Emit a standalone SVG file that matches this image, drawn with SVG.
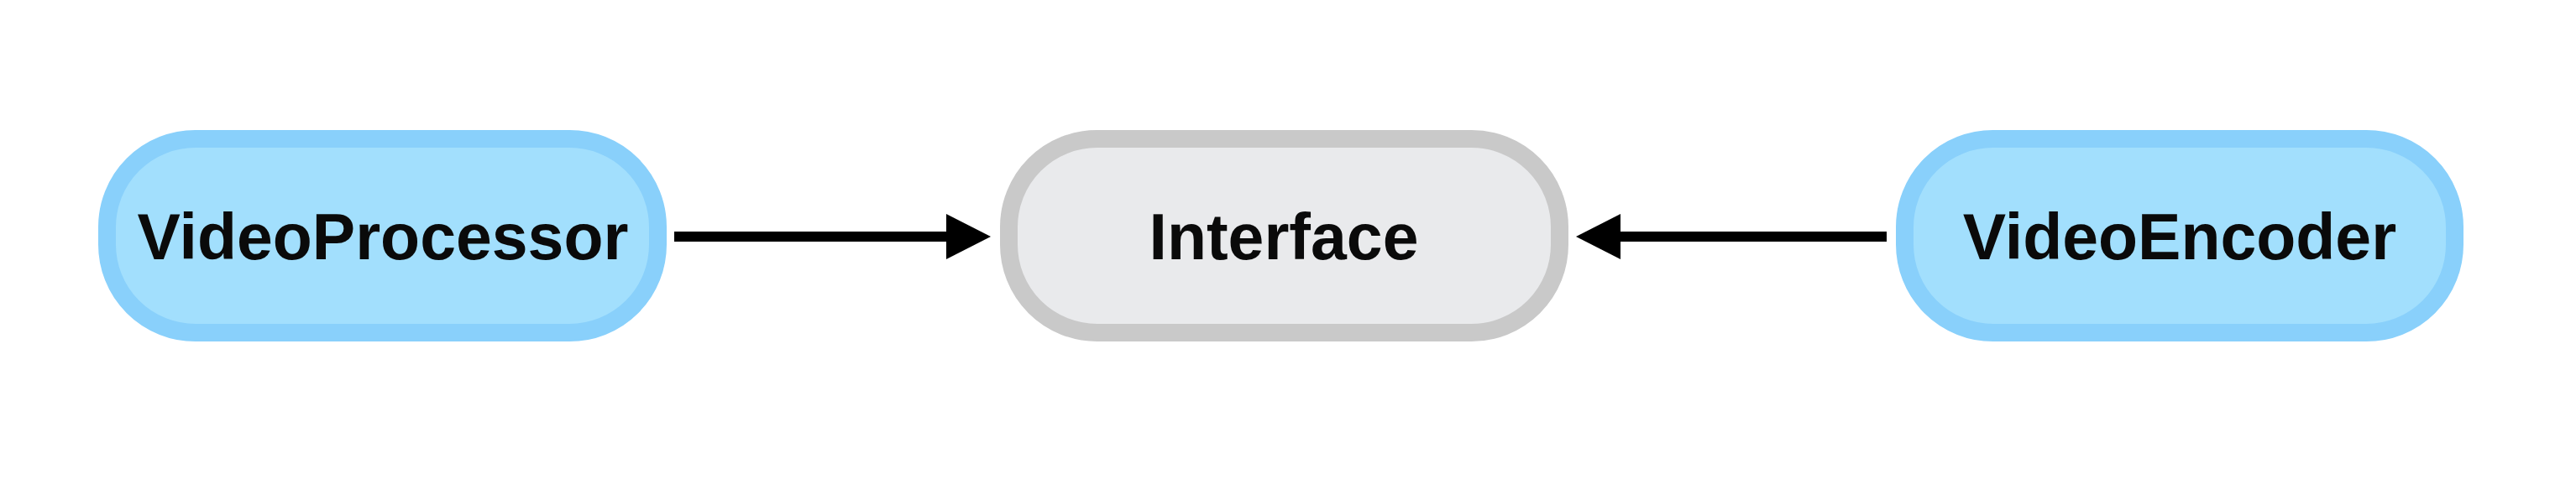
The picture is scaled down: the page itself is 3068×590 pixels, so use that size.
<svg xmlns="http://www.w3.org/2000/svg" width="3068" height="590" viewBox="0 0 3068 590">
<style>
.blue rect{fill:#A2DFFD;stroke:#89D0FB;stroke-width:21}
.gray rect{fill:#E9EAEC;stroke:#C9C9C9;stroke-width:21}
text{font-family:"Liberation Sans",Arial,sans-serif;font-weight:bold;font-size:77px;fill:#0a0a0a;text-anchor:middle}
.edge{stroke:#000;stroke-width:12;fill:none}
</style>
<defs>
<marker id="ah" markerWidth="53" markerHeight="54" refX="1" refY="27" markerUnits="userSpaceOnUse" orient="auto" overflow="visible">
<path d="M0,0 L53,27 L0,54 Z" fill="#000"/>
</marker>
</defs>
<rect width="3068" height="590" fill="#fff"/>
<g id="connectors">
<line class="edge" x1="803" y1="282" x2="1128" y2="282" marker-end="url(#ah)"/>
<line class="edge" x1="2247" y1="282" x2="1929" y2="282" marker-end="url(#ah)"/>
</g>
<g id="VideoProcessor" class="blue">
<rect x="127.5" y="165.5" width="656" height="231" rx="105" ry="105"/>
<text x="456" y="309">VideoProcessor</text>
</g>
<g id="Interface" class="gray">
<rect x="1201.5" y="165.5" width="656" height="231" rx="105" ry="105"/>
<text x="1529" y="309">Interface</text>
</g>
<g id="VideoEncoder" class="blue">
<rect x="2268.5" y="165.5" width="655" height="231" rx="105" ry="105"/>
<text x="2596" y="309">VideoEncoder</text>
</g>
</svg>
